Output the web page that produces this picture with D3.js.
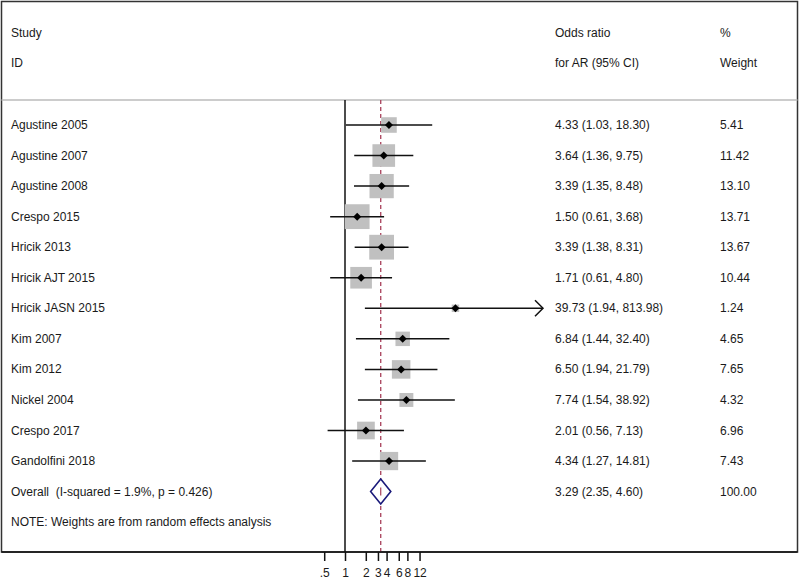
<!DOCTYPE html>
<html><head><meta charset="utf-8">
<script src="https://cdn.jsdelivr.net/npm/d3@7"></script>
<style>body{margin:0;background:#fff;} text{font-family:Arial,"Liberation Sans",sans-serif;}</style>
</head><body><svg id="c" width="800" height="579"></svg>
<script>
const studies = ["Agustine 2005","Agustine 2007","Agustine 2008","Crespo 2015","Hricik 2013","Hricik AJT 2015","Hricik JASN 2015","Kim 2007","Kim 2012","Nickel 2004","Crespo 2017","Gandolfini 2018"];
const orValues = [4.33,3.64,3.39,1.50,3.39,1.71,39.73,6.84,6.50,7.74,2.01,4.34];
const ciLow = [1.03,1.36,1.35,0.61,1.38,0.61,1.94,1.44,1.94,1.54,0.56,1.27];
const ciHigh = [18.30,9.75,8.48,3.68,8.31,4.80,813.98,32.40,21.79,38.92,7.13,14.81];
const weights = [5.41,11.42,13.10,13.71,13.67,10.44,1.24,4.65,7.65,4.32,6.96,7.43];
const overall = {label:"Overall  (I-squared = 1.9%, p = 0.426)", or:3.29, lo:2.35, hi:4.60, w:100.00};
const tickValues = [0.5,1,2,3,4,6,8,12];
const tickLabels = [".5","1","2","3","4","6","8","12"];
const headers1 = ["Study","Odds ratio","%"];
const headers2 = ["ID","for AR (95% CI)","Weight"];
const note = "NOTE: Weights are from random effects analysis";

const svg = d3.select("#c");
const f2 = d3.format(".2f");
const x = d3.scaleLog().domain([1,12]).range([345, 345+30*Math.log(12)]);
const xMaxPix = 543;
const allRows = studies.length + 2;
const y = d3.scalePoint().domain(d3.range(allRows)).range([125, 125+30.55*(allRows-1)]);

const plotTop = 100, plotBottom = 552;
const colStudy = 11, colOR = 555, colW = 720;
const fs = 12;
const txtCol = "#1a1a1a";

// frame
svg.append("rect").attr("x",1.5).attr("y",1.5).attr("width",796).attr("height",plotBottom-1.5)
  .attr("fill","none").attr("stroke","#333").attr("stroke-width",1.5);
svg.append("line").attr("x1",1.5).attr("x2",797.5).attr("y1",plotTop).attr("y2",plotTop).attr("stroke","#bbb").attr("stroke-width",1.5);

// headers
const hx = [colStudy,colOR,colW];
headers1.forEach((h,i)=>svg.append("text").attr("x",hx[i]).attr("y",37).attr("font-size",fs).attr("fill",txtCol).text(h));
headers2.forEach((h,i)=>svg.append("text").attr("x",hx[i]).attr("y",67).attr("font-size",fs).attr("fill",txtCol).text(h));

// null line
svg.append("line").attr("x1",x(1)).attr("x2",x(1)).attr("y1",plotTop).attr("y2",plotBottom).attr("stroke","#111").attr("stroke-width",1.5);
// overall dashed line
svg.append("line").attr("x1",x(overall.or)).attr("x2",x(overall.or)).attr("y1",plotTop).attr("y2",plotBottom)
  .attr("stroke","#a8405a").attr("stroke-width",1.3).attr("stroke-dasharray","4,3");

// axis
const axisG = svg.append("g").attr("transform",`translate(0,${plotBottom})`);
axisG.append("line").attr("x1",1.5).attr("x2",797.5).attr("stroke","#111").attr("stroke-width",1.5);
const ax = d3.axisBottom(x).tickValues(tickValues).tickFormat((d,i)=>tickLabels[i]).tickSize(9).tickPadding(7);
const gAx = svg.append("g").attr("transform",`translate(0,${plotBottom})`).call(ax);
gAx.select(".domain").remove();
gAx.selectAll(".tick line").attr("stroke","#111").attr("stroke-width",1.5);
gAx.selectAll(".tick text").attr("font-size",fs).attr("fill",txtCol).attr("font-family","Arial, 'Liberation Sans', sans-serif");

// studies
studies.forEach((s,i)=>{
  const cy = y(i);
  const xl = x(ciLow[i]);
  const xhRaw = x(ciHigh[i]);
  const xh = Math.min(xhRaw, xMaxPix);
  const side = 6.7*Math.sqrt(weights[i]);
  const cx = x(orValues[i]);
  svg.append("rect").attr("x",cx-side/2).attr("y",cy-side/2).attr("width",side).attr("height",side).attr("fill","#c0c0c0");
  svg.append("line").attr("x1",xl).attr("x2",xh).attr("y1",cy).attr("y2",cy).attr("stroke","#111").attr("stroke-width",1.5);
  if (xhRaw > xMaxPix) {
    svg.append("path").attr("d",`M${xh-8},${cy-8}L${xh},${cy}L${xh-8},${cy+8}`).attr("fill","none").attr("stroke","#111").attr("stroke-width",1.5);
  }
  svg.append("path").attr("d",`M${cx},${cy-4}L${cx+4},${cy}L${cx},${cy+4}L${cx-4},${cy}Z`).attr("fill","#000");
  svg.append("text").attr("x",colStudy).attr("y",cy+4).attr("font-size",fs).attr("fill",txtCol).text(s);
  svg.append("text").attr("x",colOR).attr("y",cy+4).attr("font-size",fs).attr("fill",txtCol)
    .text(`${f2(orValues[i])} (${f2(ciLow[i])}, ${f2(ciHigh[i])})`);
  svg.append("text").attr("x",colW).attr("y",cy+4).attr("font-size",fs).attr("fill",txtCol).text(f2(weights[i]));
});

// overall
const oy = y(studies.length);
svg.append("path").attr("d",`M${x(overall.lo)},${oy}L${x(overall.or)},${oy-12.5}L${x(overall.hi)},${oy}L${x(overall.or)},${oy+12.5}Z`)
  .attr("fill","#fff").attr("stroke","#1a1a7a").attr("stroke-width",1.6);
svg.append("line").attr("x1",x(overall.or)).attr("x2",x(overall.or)).attr("y1",oy-4).attr("y2",oy+4).attr("stroke","#a8405a").attr("stroke-width",1.2);
svg.append("text").attr("x",colStudy).attr("y",oy+4).attr("font-size",fs).attr("fill",txtCol).attr("xml:space","preserve").style("white-space","pre").text(overall.label);
svg.append("text").attr("x",colOR).attr("y",oy+4).attr("font-size",fs).attr("fill",txtCol)
  .text(`${f2(overall.or)} (${f2(overall.lo)}, ${f2(overall.hi)})`);
svg.append("text").attr("x",colW).attr("y",oy+4).attr("font-size",fs).attr("fill",txtCol).text(f2(overall.w));
svg.append("text").attr("x",colStudy).attr("y",y(studies.length+1)+4).attr("font-size",fs).attr("fill",txtCol).text(note);
</script></body></html>
